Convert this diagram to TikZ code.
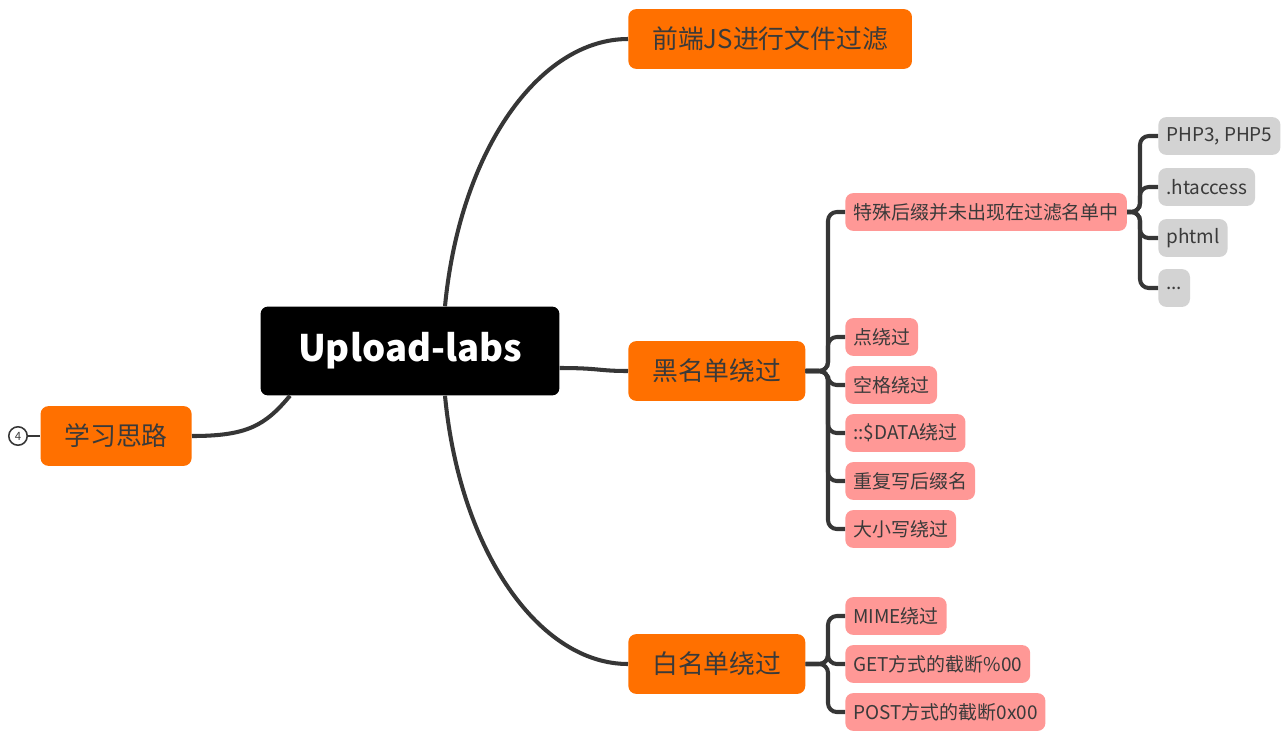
\documentclass[tikz,border=0pt]{standalone}
\usepackage{fontspec}
\setmainfont{Noto Sans CJK SC}
\usetikzlibrary{calc}
\definecolor{xmorange}{HTML}{FF7000}
\definecolor{xmpink}{HTML}{FF9896}
\definecolor{xmgray}{HTML}{D3D3D3}
\definecolor{xmline}{HTML}{363636}
\definecolor{xmtext}{HTML}{3A3A3A}
\tikzset{
  x=0.02cm,
  y=-0.02cm,
}
\tikzstyle{root}=[fill=black,text=white,rounded corners=4pt,font=\fontsize{20.8}{24}\selectfont\bfseries,minimum height=50.5pt,minimum width=170pt]
\tikzstyle{topic}=[fill=xmorange,text=xmtext,rounded corners=4.5pt,font=\fontsize{14.7}{17}\selectfont,minimum height=34pt,inner xsep=13.6pt,anchor=west]
\tikzstyle{sub}=[fill=xmpink,text=xmtext,rounded corners=4.5pt,font=\fontsize{10.8}{13}\selectfont,minimum height=21.5pt,inner xsep=4.5pt,anchor=west]
\tikzstyle{leaf}=[sub,fill=xmgray]
\tikzstyle{link}=[xmline,line width=2.3pt]
\tikzstyle{branch}=[link,rounded corners=5pt]

\begin{document}
\begin{tikzpicture}
    \useasboundingbox (0,0) rectangle (1282,731);
    % central topic and main branches
    \node[root] (root) at (410,351) {Upload-labs};
    \node[topic] (qd) at (628,39) {前端JS进行文件过滤};
    \node[topic] (hmd) at (628,371) {黑名单绕过};
    \node[topic] (bmd) at (628,664) {白名单绕过};
    \node[topic,anchor=east] (xx) at (192,436) {学习思路};
    \node[draw=xmline,line width=0.9pt,circle,fill=white,inner sep=0pt,minimum size=10.5pt,font=\fontsize{6.5}{7}\selectfont,text=xmtext] (num) at (18,436) {4};
    % blacklist
    \node[sub] (tsh) at (845,212) {特殊后缀并未出现在过滤名单中};
    \node[sub] (dian) at (845,337) {点绕过};
    \node[sub] (kg) at (845,385) {空格绕过};
    \node[sub] (data) at (845,433) {::\$DATA绕过};
    \node[sub] (cf) at (845,481) {重复写后缀名};
    \node[sub] (dx) at (845,529) {大小写绕过};
    \node[leaf] (php) at (1158,136) {PHP3, PHP5};
    \node[leaf] (hta) at (1158,187) {.htaccess};
    \node[leaf] (pht) at (1158,238) {phtml};
    \node[leaf] (etc) at (1158,288) {...};
    % whitelist
    \node[sub] (mime) at (845,616) {MIME绕过};
    \node[sub] (get) at (845,664) {GET方式的截断\%00};
    \node[sub] (post) at (845,712) {POST方式的截断0x00};

    \draw[link] ($(root.north)+(35,0)$) .. controls +(15,-157) and +(-88,0) .. (qd.west);
    \draw[link] ($(root.south)+(35,0)$) .. controls +(15,157) and +(-88,0) .. (bmd.west);
    \draw[link] ($(root.east)+(0,17)$) .. controls +(40,0) and +(-30,0) .. (hmd.west);
    \draw[link] ($(root.south)+(-120,0)$) .. controls +(-25,30) and +(55,0) .. (xx.east);
    \draw[link,line width=1.5pt] (num) -- (xx.west);

    \coordinate (hmdj) at (828,371);
    \coordinate (tshj) at (1140,212);
    \coordinate (bmdj) at (828,664);
    \foreach \c in {tsh,dian,kg,data,cf,dx}
      \draw[branch] (hmd.east) -- (hmdj) |- (\c.west);
    \foreach \c in {php,hta,pht,etc}
      \draw[branch] (tsh.east) -- (tshj) |- (\c.west);
    \foreach \c in {mime,get,post}
      \draw[branch] (bmd.east) -- (bmdj) |- (\c.west);
\end{tikzpicture}
\end{document}
